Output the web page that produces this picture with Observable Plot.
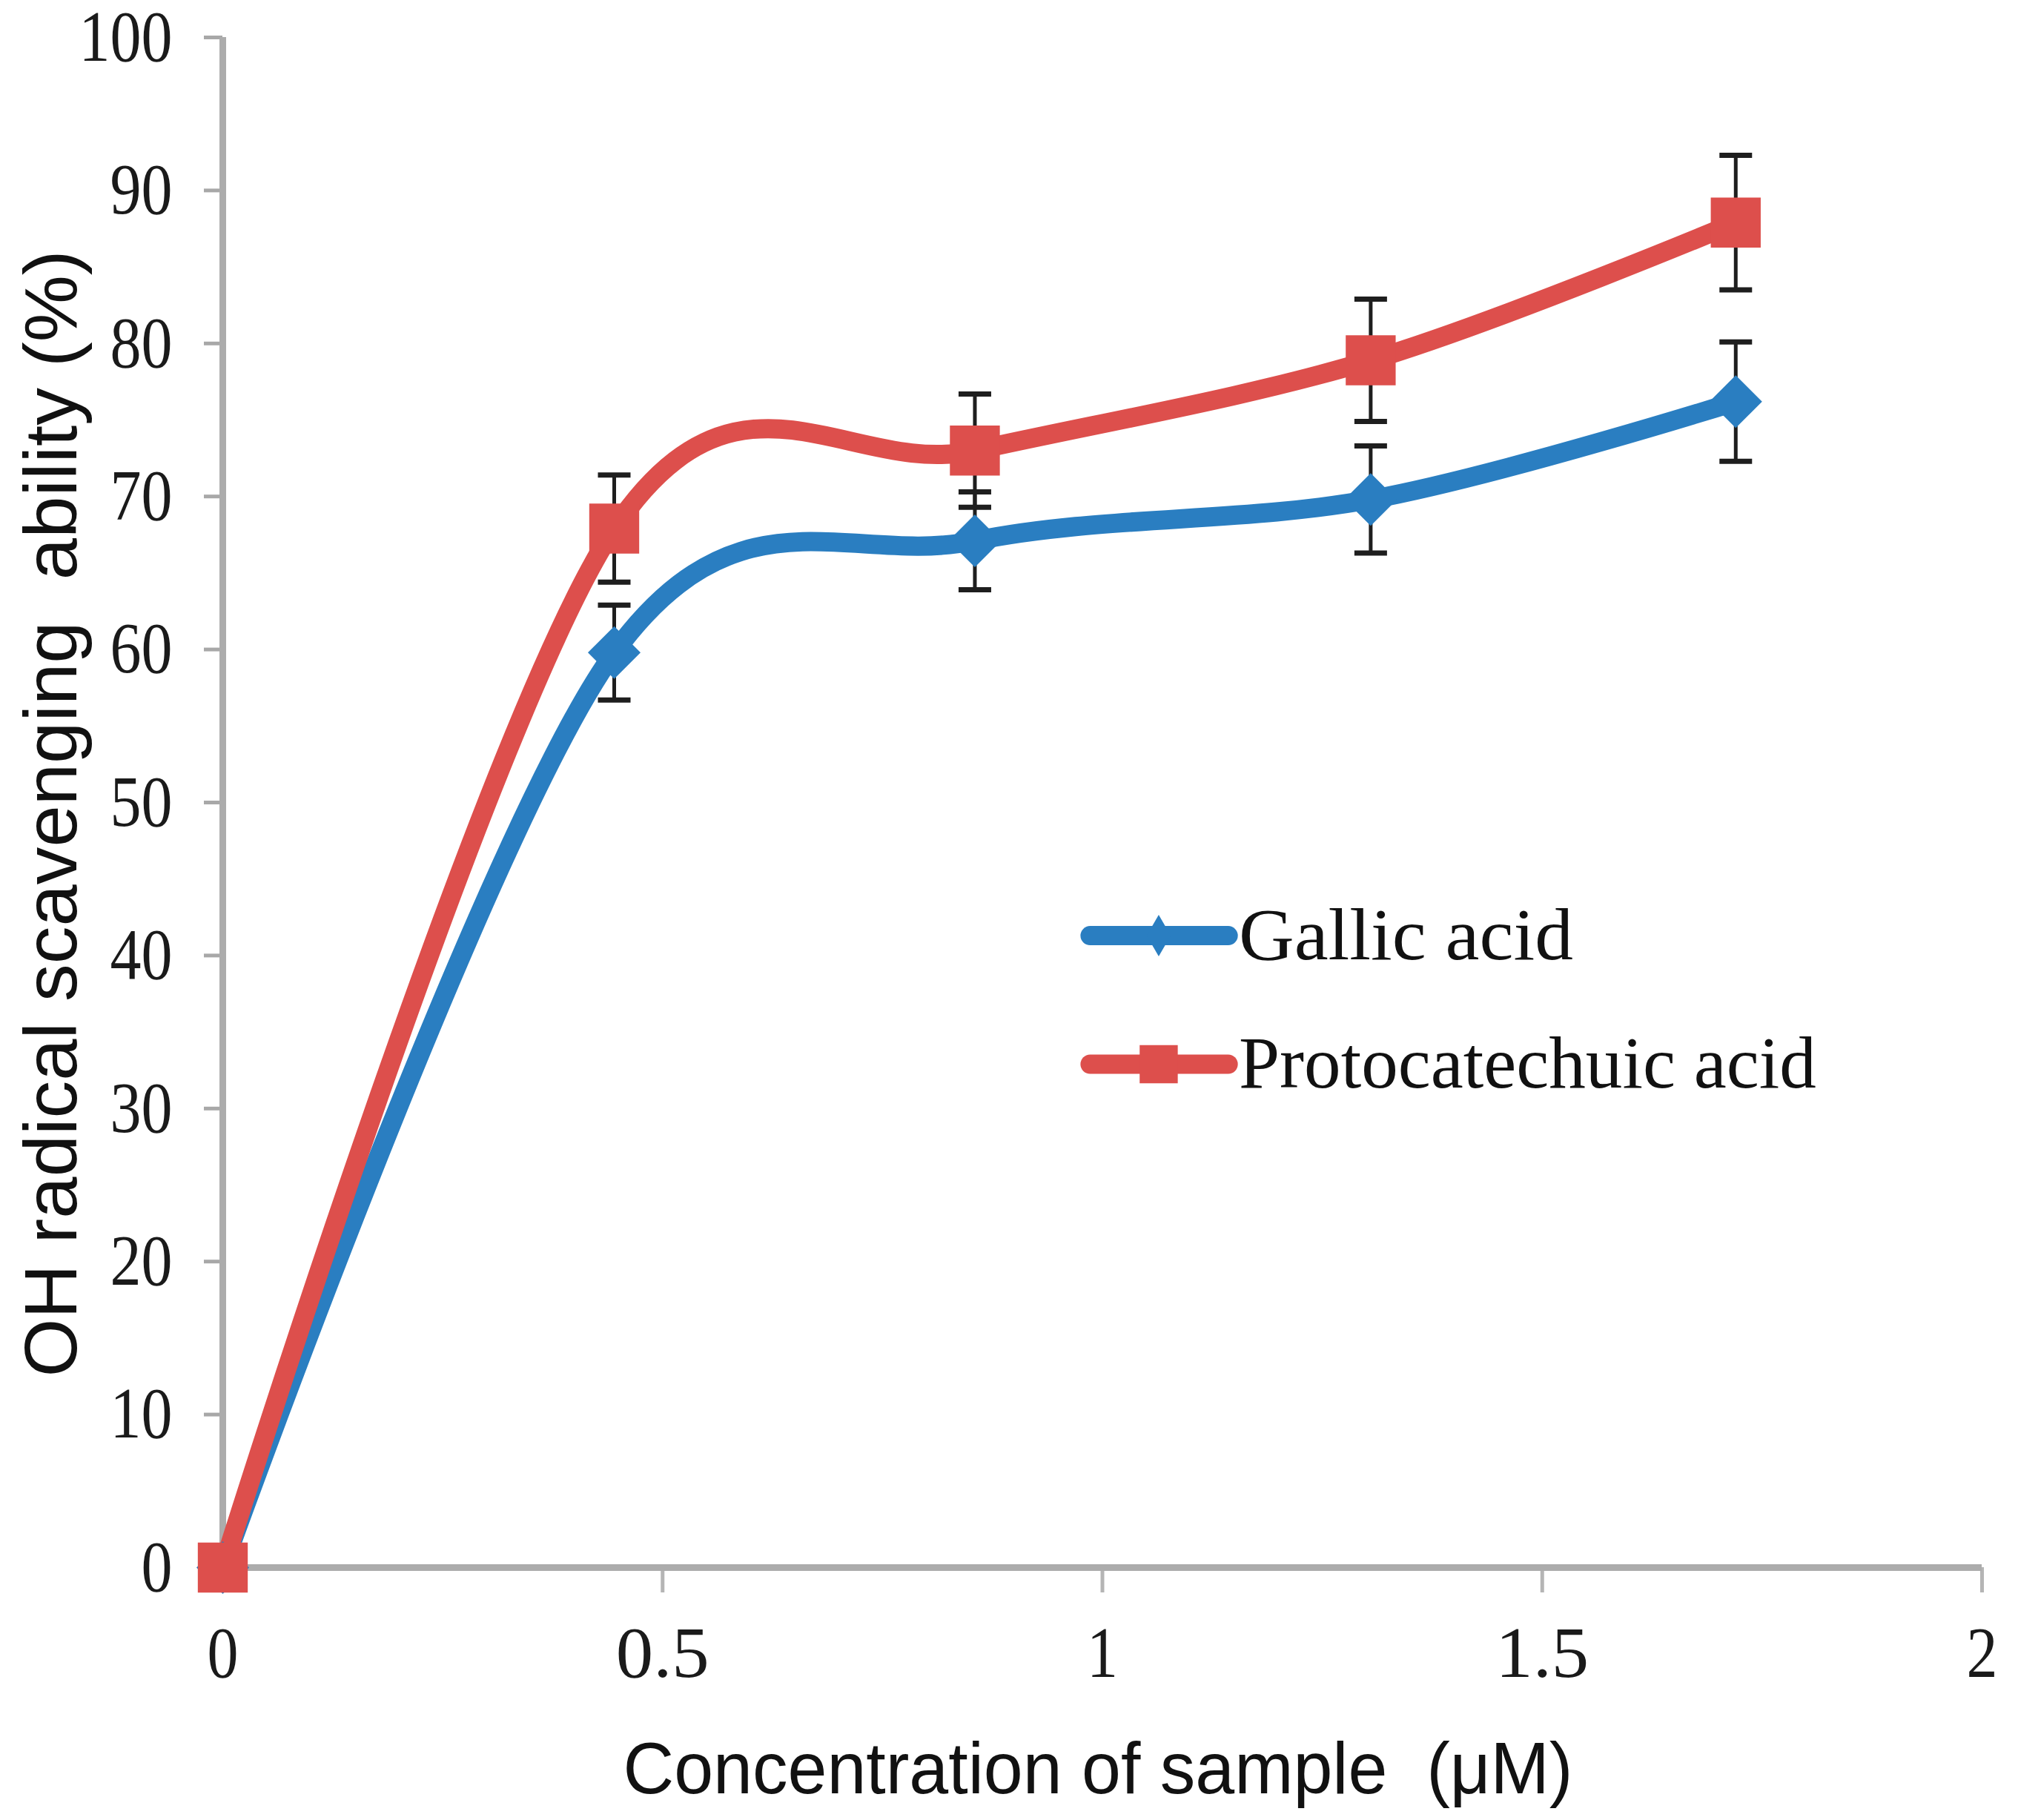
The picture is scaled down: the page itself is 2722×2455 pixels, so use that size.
<!DOCTYPE html>
<html>
<head>
<meta charset="utf-8">
<script src="https://cdn.jsdelivr.net/npm/d3@7"></script>
<script src="https://cdn.jsdelivr.net/npm/@observablehq/plot@0.6"></script>
<style>
  body { margin: 0; background: #fff; }
</style>
</head>
<body>
<div id="chart"></div>
<script>
// datos
const series = ["Gallic acid", "Protocatechuic acid"];
const conc = [0, 0.445, 0.855, 1.305, 1.72];
const gallic = [0, 59.8, 67.1, 69.8, 76.2];
const gallicErr = [0, 3.1, 3.2, 3.5, 3.9];
const proto = [0, 67.9, 73.0, 78.9, 87.9];
const protoErr = [0, 3.5, 3.7, 4.0, 4.4];
const xTicks = [0, 0.5, 1, 1.5, 2];
const yTicks = [0, 10, 20, 30, 40, 50, 60, 70, 80, 90, 100];
const xTitle = "Concentration of sample  (μM)";
const yTitle = "OH radical scavenging  ability (%)";

const values = [gallic, proto];
const errors = [gallicErr, protoErr];
const colors = ["#2a7ec1", "#dd4f4c"];

let rows = series.flatMap((s, i) => conc.map((c, j) => ({
  series: s, x: c, y: values[i][j], err: errors[i][j]
})));
let errRows = rows.filter(d => d.err > 0);
let caps = errRows.flatMap(d => [{x: d.x, y: d.y + d.err}, {x: d.x, y: d.y - d.err}]);

// simbolo de "tapa" para las barras de error
const capSymbol = {
  draw(context, size) {
    const w = Math.sqrt(size / Math.PI);
    context.moveTo(-w, 0);
    context.lineTo(w, 0);
  }
};

// posicion de la leyenda (en unidades de datos)
const legendY = [41.3, 32.9];
let legendRows = series.map((s, i) => ({series: s, y: legendY[i]}));

const serifFont = "Liberation Serif, DejaVu Serif, serif";
const sansFont = "Liberation Sans Narrow, Liberation Sans, Arial, sans-serif";

let chart = Plot.plot({
  width: 2722,
  height: 2455,
  marginLeft: 300,
  marginRight: 49,
  marginTop: 50,
  marginBottom: 341,
  x: { domain: [0, 2] },
  y: { domain: [0, 100] },
  color: { domain: series, range: colors },
  style: { background: "#fff" },
  marks: [
    Plot.axisX(xTicks, {
      tickSize: 34, tickPadding: 44, stroke: "#b5b5b5", strokeWidth: 5,
      fill: "#1a1a1a", fontFamily: serifFont, fontSize: 98,
      tickFormat: d => String(d), label: null
    }),
    Plot.axisY(yTicks, {
      tickSize: 25, tickPadding: 43, stroke: "#a8a8a8", strokeWidth: 5,
      fill: "#1a1a1a", fontFamily: serifFont, fontSize: 98,
      tickFormat: d => String(d), label: null
    }),
    Plot.ruleY([0], { stroke: "#acacac", strokeWidth: 9 }),
    Plot.ruleX([0], { stroke: "#acacac", strokeWidth: 9 }),

    // lineas suavizadas
    Plot.line(rows, {
      x: "x", y: "y", z: "series", stroke: "series",
      strokeWidth: 26, curve: "cardinal", tension: 0
    }),

    // barras de error
    Plot.ruleX(errRows, {
      x: "x", y1: d => d.y - d.err, y2: d => d.y + d.err,
      stroke: "#1e1e1e", strokeWidth: 5
    }),
    Plot.dot(caps, {
      x: "x", y: "y", symbol: capSymbol, r: 22,
      fill: "none", stroke: "#1e1e1e", strokeWidth: 7
    }),

    // marcadores
    Plot.dot(rows.filter(d => d.series == series[0]), {
      x: "x", y: "y", symbol: "diamond2", r: 32, fill: colors[0], stroke: null
    }),
    Plot.dot(rows.filter(d => d.series == series[1]), {
      x: "x", y: "y", symbol: "square", r: 38, fill: colors[1], stroke: null
    }),

    // leyenda
    Plot.link(legendRows, {
      x1: 0.986, x2: 1.143, y1: "y", y2: "y",
      stroke: "series", strokeWidth: 26, strokeLinecap: "round"
    }),
    Plot.dot(legendRows.slice(0, 1), {
      x: 1.064, y: "y", symbol: "diamond", r: 17, fill: colors[0], stroke: null
    }),
    Plot.dot(legendRows.slice(1), {
      x: 1.064, y: "y", symbol: "square", r: 29, fill: colors[1], stroke: null
    }),
    Plot.text(legendRows, {
      x: 1.155, y: "y", text: "series", textAnchor: "start", lineAnchor: "middle",
      fontFamily: serifFont, fontSize: 100, fill: "#111"
    }),

    // titulos de ejes
    Plot.text([xTitle], {
      frameAnchor: "bottom", text: d => d, textAnchor: "middle", dx: -6, dy: 273, lineAnchor: "middle",
      fontFamily: sansFont, fontSize: 98, fill: "#111"
    }),
    Plot.text([yTitle], {
      frameAnchor: "left", text: d => d, textAnchor: "middle", rotate: -90, dx: -230, dy: 15, lineAnchor: "middle",
      fontFamily: sansFont, fontSize: 100, fill: "#111"
    })
  ]
});

// ajustamos el ancho de los textos (fuente estrecha tipo SimSun / Calibri)
d3.select(chart).selectAll("text").each(function () {
  const t = this.textContent;
  const g = this.closest("g[font-family]");
  const fam = g ? g.getAttribute("font-family") : "";
  let len = null;
  if (t === xTitle) len = 1281;
  else if (t === yTitle) len = 1520;
  else if (fam.includes("Serif")) len = t.length * (series.includes(t) ? 41 : 42);
  if (len) {
    this.setAttribute("textLength", len);
    this.setAttribute("lengthAdjust", "spacingAndGlyphs");
  }
});

d3.select('#chart').append(() => chart);
</script>
</body>
</html>
